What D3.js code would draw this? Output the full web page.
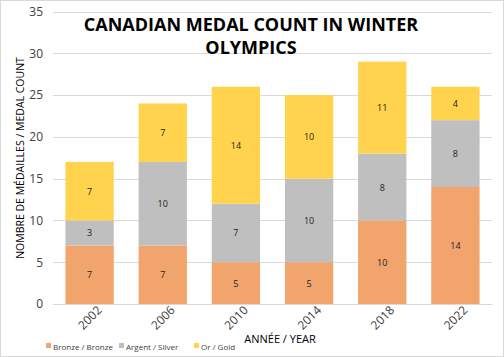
<!DOCTYPE html>
<html><head><meta charset="utf-8">
<script src="https://cdn.jsdelivr.net/npm/d3@7"></script>
<style>body{margin:0;background:#fff}svg{display:block;font-family:"Open Sans",sans-serif}</style>
</head><body>
<script>
const years = ["2002","2006","2010","2014","2018","2022"];
const bronze = [7,7,5,5,10,14];
const silver = [3,10,7,10,8,8];
const gold = [7,7,14,10,11,4];
const seriesNames = ["Bronze / Bronze","Argent / Silver","Or / Gold"];
const yTicks = [0,5,10,15,20,25,30,35];
const colors = ["#F1A46C","#BFBFBF","#FFD34E"];

const W=504,H=357;
const svg=d3.select("body").append("svg").attr("width",W).attr("height",H);
svg.append("rect").attr("x",0.5).attr("y",0.5).attr("width",W-1).attr("height",H-1).attr("fill","#fff").attr("stroke","#d9d9d9");

const x=d3.scaleBand().domain(years).range([53,492]).paddingInner(0.34).paddingOuter(0.17);
const y=d3.scaleLinear().domain([0,35]).range([304,11.5]);

// grid
svg.append("g").selectAll("line").data(yTicks).join("line")
 .attr("x1",53).attr("x2",492).attr("y1",d=>Math.round(y(d))+0.5).attr("y2",d=>Math.round(y(d))+0.5)
 .attr("stroke","#d9d9d9").attr("stroke-width",1);

const rows = years.map((yr,i)=>({year:yr,b:bronze[i],s:silver[i],g:gold[i]}));
const stack=d3.stack().keys(["b","s","g"])(rows);
const gS=svg.append("g");
stack.forEach((layer,li)=>{
  gS.append("g").selectAll("rect").data(layer).join("rect")
   .attr("x",d=>x(d.data.year)).attr("width",x.bandwidth())
   .attr("y",d=>y(d[1])).attr("height",d=>y(d[0])-y(d[1]))
   .attr("fill",colors[li]);
  gS.append("g").selectAll("text").data(layer).join("text")
   .attr("x",d=>x(d.data.year)+x.bandwidth()/2).attr("y",d=>(y(d[0])+y(d[1]))/2)
   .attr("text-anchor","middle").attr("dominant-baseline","central")
   .attr("font-size",9).attr("fill","#222").text(d=>d[1]-d[0]);
});

// y axis
const ya=svg.append("g").attr("transform","translate(53,0)").call(d3.axisLeft(y).tickValues(yTicks).tickSize(0).tickPadding(10));
ya.select(".domain").remove();
ya.selectAll("text").attr("font-size",12).attr("fill","#404040").attr("font-family","Open Sans, sans-serif");

// x axis
const xa=svg.append("g").attr("transform","translate(0,304)").call(d3.axisBottom(x).tickSize(0));
xa.select(".domain").attr("stroke","#d9d9d9");
xa.selectAll("text").attr("font-size",12).attr("fill","#404040").attr("font-family","Open Sans, sans-serif")
 .attr("text-anchor","end").attr("transform","translate(10,4) rotate(-45)").attr("dy","0.35em").attr("y",0).attr("x",0);

// title
const t=svg.append("text").attr("x",251).attr("font-weight","bold").attr("font-size",18).attr("text-anchor","middle").attr("fill","#000");
t.append("tspan").attr("x",251).attr("y",31).text("CANADIAN MEDAL COUNT IN WINTER");
t.append("tspan").attr("x",251).attr("y",54).text("OLYMPICS");

// axis titles
svg.append("text").attr("transform","translate(24,158) rotate(-90)").attr("text-anchor","middle")
 .attr("font-size",10.5).attr("fill","#000").text("NOMBRE DE MÉDAILLES / MEDAL COUNT");
svg.append("text").attr("x",280).attr("y",343).attr("text-anchor","middle")
 .attr("font-size",11).attr("fill","#000").text("ANNÉE / YEAR");

// legend
const lx=[46,119,194];
const lg=svg.append("g");
seriesNames.forEach((n,i)=>{
  lg.append("rect").attr("x",lx[i]).attr("y",343).attr("width",5).attr("height",5).attr("fill",colors[i]);
  lg.append("text").attr("x",lx[i]+7).attr("y",346).attr("dominant-baseline","central").attr("font-size",8).attr("fill","#404040").text(n);
});
</script>
</body></html>
